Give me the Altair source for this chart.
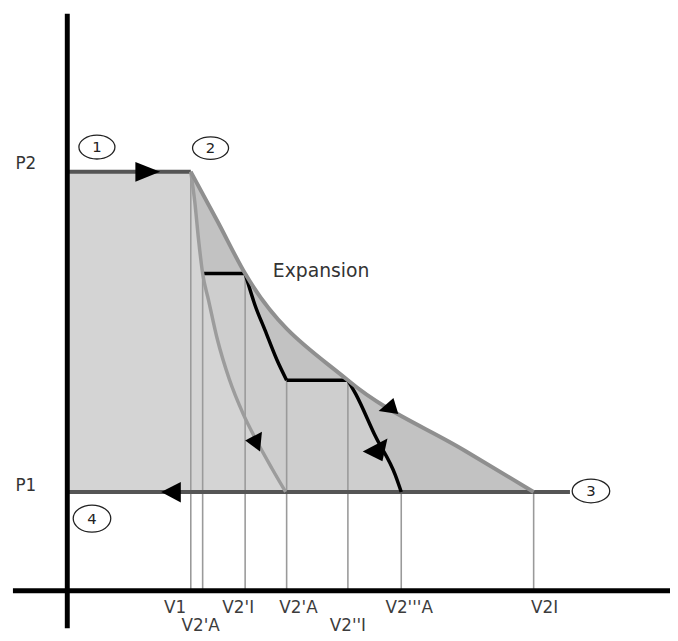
import altair as alt
import pandas as pd

# ---------------- data (V and P in arbitrary units) ----------------
P1 = 1.0
P2 = 4.24
V1 = 1.0

# outer curve (isothermal expansion 2 -> 3)
ISO_V = [1.00, 1.216, 1.44, 2.272, 3.216, 3.776]
ISO_P = [4.24, 3.74, 3.21, 2.13, 1.42, 1.00]

# inner curve (single adiabatic expansion from 2)
ADI_V = [1.00, 1.032, 1.064, 1.096, 1.144, 1.216, 1.312, 1.424, 1.536, 1.656, 1.768]
ADI_P = [4.24, 3.94, 3.54, 3.21, 2.94, 2.54, 2.14, 1.79, 1.51, 1.24, 1.00]

# black stepped path, one list per segment (after first adiabatic step)
STEP_SEG_V = [[1.096, 1.44], [1.44, 1.52, 1.60, 1.696, 1.776], [1.776, 2.272],
              [2.272, 2.336, 2.496, 2.656, 2.704]]
STEP_SEG_P = [[3.21, 3.21], [3.21, 2.89, 2.64, 2.34, 2.13], [2.13, 2.13],
              [2.13, 1.99, 1.56, 1.17, 1.00]]

# vertical guide lines and their labels
TICK_V = [1.00, 1.096, 1.44, 1.776, 2.272, 2.704, 3.776]
TICK_TOP = [4.24, 3.21, 3.21, 2.13, 2.13, 1.00, 1.00]
TICK_LABELS = ["V1", "V2'A", "V2'I", "V2'A", "V2''I", "V2'''A", "V2I"]
LABEL_V = [0.872, 1.08, 1.384, 1.872, 2.272, 2.768, 3.864]
LABEL_ROW = [0, 1, 0, 0, 1, 0, 0]

P_LABELS = ["P2", "P1"]
P_LABEL_P = [4.27, 1.01]

STATE_LABELS = ["1", "2", "3", "4"]
STATE_V = [0.24, 1.16, 4.24, 0.20]
STATE_P = [4.49, 4.48, 1.01, 0.73]
STATE_RY = [0.66, 0.62, 0.63, 0.72]
STATE_SIZE = [1330, 1330, 1444, 1444]

# arrows: centre position + outline (normalized symbol path)
ARROW_V = [0.618, 0.866, 2.614, 1.526, 2.512]
ARROW_P = [4.24, 1.00, 1.853, 1.513, 1.42]
ARROW_PTS = [
    [(-0.49, -0.59), (-0.49, 0.59), (0.98, 0.0)],
    [(-1.0, 0.0), (0.5, -0.75), (0.5, 0.8)],
    [(-0.97, 0.28), (0.28, -0.81), (0.69, 0.53)],
    [(-0.97, -0.06), (0.57, -0.88), (0.39, 0.94)],
    [(-1.0, 0.07), (0.67, -0.8), (0.33, 0.73)],
]
ARROW_SIZE = [1156, 708, 576, 484, 900]

# ---------------- helpers ----------------
FONT = "DejaVu Sans"
xs = alt.Scale(domain=[-0.48, 4.88], nice=False, zero=False)
ys = alt.Scale(domain=[-0.42, 5.86], nice=False, zero=False)


def X(f="v"):
    return alt.X(f"{f}:Q", scale=xs, axis=None)


def Y(f="p"):
    return alt.Y(f"{f}:Q", scale=ys, axis=None)


def poly_path(pts):
    return "M " + " L ".join(f"{a:.3f} {b:.3f}" for a, b in pts) + " Z"


def ellipse_path(ry):
    k = 0.5523
    e = ry
    return (f"M -1 0 C -1 {-k*e:.3f} {-k:.3f} {-e:.3f} 0 {-e:.3f} "
            f"C {k:.3f} {-e:.3f} 1 {-k*e:.3f} 1 0 "
            f"C 1 {k*e:.3f} {k:.3f} {e:.3f} 0 {e:.3f} "
            f"C {-k:.3f} {e:.3f} -1 {k*e:.3f} -1 0 Z")


def seq(vs, ps):
    return pd.DataFrame({"v": vs, "p": ps, "base": [P1] * len(vs)})


def segs(seg_vs, seg_ps):
    rows = []
    for s, (vs, ps) in enumerate(zip(seg_vs, seg_ps)):
        for i, (v, p) in enumerate(zip(vs, ps)):
            rows.append({"v": v, "p": p, "seg": s, "i": i})
    return pd.DataFrame(rows)


def area(vs, ps, col, interp):
    return (
        alt.Chart(seq(vs, ps))
        .mark_area(fill=col, fillOpacity=1, opacity=1, strokeWidth=0,
                   interpolate=interp, orient="vertical")
        .encode(x=X(), y=Y(), y2=alt.Y2("base:Q"))
    )


layers = []

# ---------------- fills ----------------
C_ISO, C_B, C_A = "#c2c2c2", "#cecece", "#d4d4d4"
layers.append(area(ISO_V, ISO_P, C_ISO, "monotone"))
layers.append(area(ADI_V[:4], ADI_P[:4], C_B, "monotone"))
for sv, sp in zip(STEP_SEG_V, STEP_SEG_P):
    layers.append(area(sv, sp, C_B, "monotone"))
layers.append(area([0.0, V1], [P2, P2], C_A, "linear"))
layers.append(area(ADI_V, ADI_P, C_A, "monotone"))

# ---------------- vertical guide lines ----------------
ticks = pd.DataFrame({"v": TICK_V, "top": TICK_TOP, "bot": [0.0] * len(TICK_V)})
layers.append(
    alt.Chart(ticks).mark_rule(color="#9a9a9a", strokeWidth=1.6)
    .encode(x=X(), y=Y("top"), y2="bot:Q")
)

# ---------------- P1 / P2 lines ----------------
hl = pd.DataFrame({"v": [0.0, 0.0], "v2": [V1, 4.07], "p": [P2, P1]})
layers.append(
    alt.Chart(hl).mark_rule(color="#555555", strokeWidth=4)
    .encode(x=X(), x2="v2:Q", y=Y())
)

# ---------------- black stepped path ----------------
layers.append(
    alt.Chart(segs(STEP_SEG_V, STEP_SEG_P))
    .mark_line(color="#000000", strokeWidth=3.5, interpolate="monotone", strokeCap="butt")
    .encode(x=X(), y=Y(), detail="seg:N", order="i:Q")
)

# ---------------- curves ----------------
layers.append(
    alt.Chart(segs([ADI_V], [ADI_P])).mark_line(color="#9c9c9c", strokeWidth=3.5,
                                                interpolate="monotone")
    .encode(x=X(), y=Y(), order="i:Q")
)
layers.append(
    alt.Chart(segs([ISO_V], [ISO_P])).mark_line(color="#8f8f8f", strokeWidth=4,
                                                interpolate="monotone")
    .encode(x=X(), y=Y(), order="i:Q")
)

# ---------------- main axes ----------------
axes = pd.DataFrame({"v": [0.0, -0.44], "v2": [0.0, 4.88], "p": [5.84, 0.0], "p2": [-0.38, 0.0]})
layers.append(
    alt.Chart(axes).mark_rule(color="#000000", strokeWidth=5)
    .encode(x=X(), x2="v2:Q", y=Y(), y2="p2:Q")
)

# ---------------- arrows ----------------
arrows = pd.DataFrame({
    "v": ARROW_V, "p": ARROW_P,
    "shape": [poly_path(pts) for pts in ARROW_PTS],
    "size": ARROW_SIZE,
})
layers.append(
    alt.Chart(arrows).mark_point(filled=True, color="#000000", opacity=1, strokeWidth=0)
    .encode(x=X(), y=Y(), shape=alt.Shape("shape:N", scale=None),
            size=alt.Size("size:Q", scale=None))
)

# ---------------- state ellipses ----------------
states = pd.DataFrame({
    "v": STATE_V, "p": STATE_P, "t": STATE_LABELS,
    "shape": [ellipse_path(r) for r in STATE_RY], "size": STATE_SIZE,
})
layers.append(
    alt.Chart(states).mark_point(filled=False, color="#222222", strokeWidth=1.3, opacity=1)
    .encode(x=X(), y=Y(), shape=alt.Shape("shape:N", scale=None),
            size=alt.Size("size:Q", scale=None))
)
layers.append(
    alt.Chart(states).mark_text(font=FONT, fontSize=15, color="#222222",
                                align="center", baseline="middle")
    .encode(x=X(), y=Y(), text="t:N")
)

# ---------------- texts ----------------
plab = pd.DataFrame({"v": [-0.336, -0.336], "p": P_LABEL_P, "t": P_LABELS})
layers.append(
    alt.Chart(plab).mark_text(font=FONT, fontSize=17, color="#333333",
                              align="center", baseline="alphabetic")
    .encode(x=X(), y=Y(), text="t:N")
)
layers.append(
    alt.Chart(pd.DataFrame({"v": [1.664], "p": [3.18], "t": ["Expansion"]}))
    .mark_text(font=FONT, fontSize=19, color="#333333", align="left", baseline="alphabetic")
    .encode(x=X(), y=Y(), text="t:N")
)
vlab = pd.DataFrame({
    "v": LABEL_V,
    "p": [-0.23 if r == 0 else -0.41 for r in LABEL_ROW],
    "t": TICK_LABELS,
})
layers.append(
    alt.Chart(vlab).mark_text(font=FONT, fontSize=17, color="#3c3c3c",
                              align="center", baseline="alphabetic")
    .encode(x=X(), y=Y(), text="t:N")
)

chart = (
    alt.layer(*layers)
    .properties(width=670, height=628, padding=0, autosize="none", background="white")
    .configure_view(stroke=None)
)

chart.save("out.html", embed_options={"renderer": "svg", "actions": False})
